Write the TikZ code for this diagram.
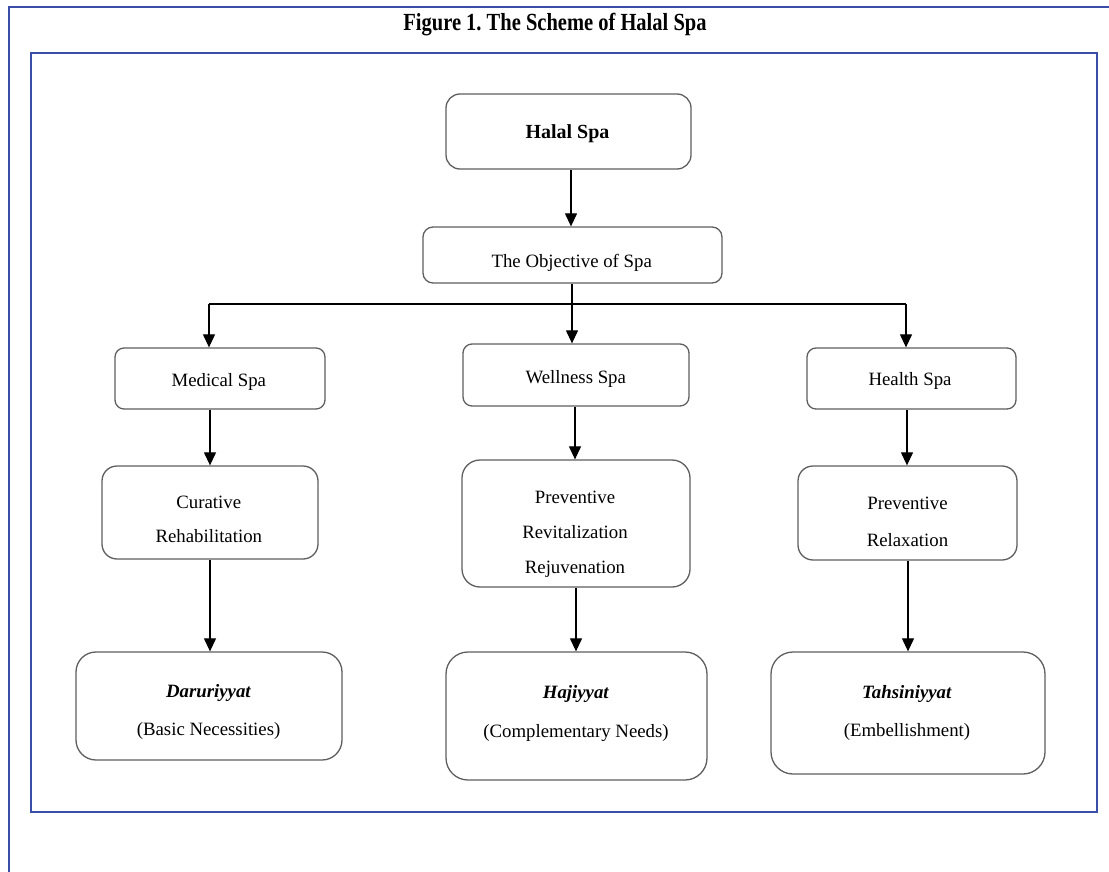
\documentclass[tikz,border=0pt]{standalone}
\usepackage{fontspec}
\setmainfont{Liberation Serif}
\usetikzlibrary{arrows.meta}
\definecolor{frameblue}{RGB}{58,78,168}
\definecolor{boxgray}{RGB}{95,95,95}
\frenchspacing
\begin{document}
\begin{tikzpicture}[x=1pt,y=-1pt,
  frame/.style={draw=frameblue, line width=2.2pt},
  box/.style={draw=boxgray, line width=1.3pt, rounded corners=#1, inner sep=0pt, fill=white},
  box/.default=10pt,
  txt/.style={font=\fontsize{18.8pt}{34pt}\selectfont, align=center, inner sep=0pt},
  arr/.style={draw=black, line width=1.2pt, -{Triangle[length=13pt,width=12pt]}},
  bar/.style={draw=black, line width=1.8pt}]
\useasboundingbox (0,0) rectangle (1109,872);
% frames
\draw[frame] (8.7,880) -- (8.7,6.7) -- (1120,6.7);
\draw[frame] (31,53) rectangle (1097,812);
\node[font=\bfseries\fontsize{20.5pt}{24pt}\selectfont, inner sep=0pt] (title) at (555,25) {\scalebox{1}[1.2]{Figure 1. The Scheme of Halal Spa}};
% boxes
\node[box=14pt, minimum width=245pt, minimum height=75pt] (hal) at (568.5,131.5) {};
\node[box=10pt, minimum width=299pt, minimum height=56pt] (obj) at (572.5,255) {};
\node[box=9pt, minimum width=210pt, minimum height=61pt] (med) at (220,378.5) {};
\node[box=9pt, minimum width=226pt, minimum height=62pt] (wel) at (576,375) {};
\node[box=9pt, minimum width=209pt, minimum height=61pt] (hea) at (911.5,378.5) {};
\node[box=15pt, minimum width=216pt, minimum height=93pt] (cur) at (210,512.5) {};
\node[box=18pt, minimum width=228pt, minimum height=127pt] (prv) at (576,523.5) {};
\node[box=15pt, minimum width=219pt, minimum height=94pt] (rel) at (907.5,513) {};
\node[box=20pt, minimum width=266pt, minimum height=108pt] (dar) at (209,706) {};
\node[box=22pt, minimum width=261pt, minimum height=128pt] (haj) at (576.5,716) {};
\node[box=22pt, minimum width=274pt, minimum height=122pt] (tah) at (908,713) {};
% texts
\node[txt, font=\bfseries\fontsize{20pt}{24pt}\selectfont] (halt) at (567.5,134) {Halal Spa};
\node[txt] (objt) at (571.7,263) {The Objective of Spa};
\node[txt] (medt) at (218.8,382) {Medical Spa};
\node[txt] (welt) at (575.8,379) {Wellness Spa};
\node[txt] (heat) at (910,381) {Health Spa};
\node[txt] (curt) at (208.8,519) {Curative\\Rehabilitation};
\node[txt, font=\fontsize{18.8pt}{35pt}\selectfont] (prvt) at (575,534) {Preventive\\Revitalization\\Rejuvenation};
\node[txt, font=\fontsize{18.8pt}{37.7pt}\selectfont] (relt) at (907.5,522) {Preventive\\Relaxation};
\node[txt, font=\fontsize{18.8pt}{38pt}\selectfont] (dart) at (208.6,712) {\textbf{\textit{Daruriyyat}}\\(Basic Necessities)};
\node[txt, font=\fontsize{18.8pt}{39pt}\selectfont] (hajt) at (576,713.5) {\textbf{\textit{Hajiyyat}}\\(Complementary Needs)};
\node[txt, font=\fontsize{18.8pt}{38pt}\selectfont] (taht) at (907,713) {\textbf{\textit{Tahsiniyyat}}\\(Embellishment)};
% column coordinates
\coordinate (c1) at (571,0);
\coordinate (c2) at (572,304);
\coordinate (bl) at (209,304);
\coordinate (br) at (906,304);
\coordinate (k1) at (210,0);
\coordinate (k2) at (575,0);
\coordinate (k3) at (907,0);
\coordinate (m1) at (210,0);
\coordinate (m2) at (576,0);
\coordinate (m3) at (908,0);
% connectors
\draw[arr] (hal.south -| c1) -- (obj.north -| c1);
\draw[arr] (obj.south -| c2) -- (wel.north -| c2);
\draw[bar] (bl) -- (br);
\draw[arr] (bl) -- (bl |- med.north);
\draw[arr] (br) -- (br |- hea.north);
\draw[arr] (med.south -| k1) -- (cur.north -| k1);
\draw[arr] (wel.south -| k2) -- (prv.north -| k2);
\draw[arr] (hea.south -| k3) -- (rel.north -| k3);
\draw[arr] (cur.south -| m1) -- (dar.north -| m1);
\draw[arr] (prv.south -| m2) -- (haj.north -| m2);
\draw[arr] (rel.south -| m3) -- (tah.north -| m3);
\end{tikzpicture}
\end{document}
